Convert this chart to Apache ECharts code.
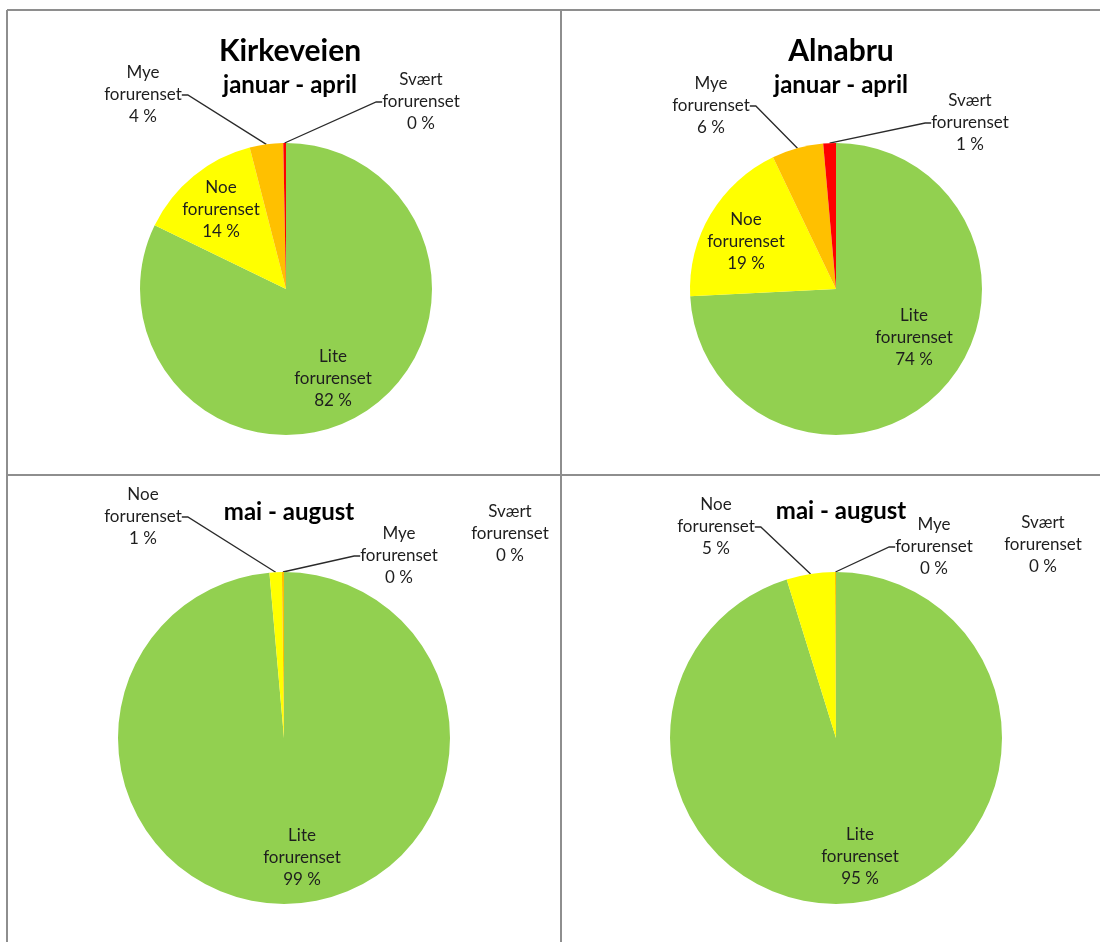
<!DOCTYPE html>
<html>
<head>
<meta charset="utf-8">
<title>Forurensning – Kirkeveien og Alnabru</title>
<script src="https://cdn.jsdelivr.net/npm/echarts@6/dist/echarts.min.js"></script>
<style>
    html, body { margin: 0; padding: 0; background: #fff; }
    #chart { width: 1100px; height: 942px; }
</style>
</head>
<body>
<div id="chart"></div>
<script>
// Categories (clockwise from 12 o'clock, same order as the Excel pies)
const categories = ['Lite forurenset', 'Noe forurenset', 'Mye forurenset', 'Svært forurenset'];
const sliceColors = ['#92D050', '#FFFF00', '#FFC000', '#FF0000'];

// Share of days (%) per category
const kirkeveienJanApr = [82.2, 13.8, 3.7, 0.3];
const alnabruJanApr = [74.2, 18.7, 5.7, 1.4];
const kirkeveienMaiAug = [98.6, 1.2, 0.2, 0];
const alnabruMaiAug = [95.2, 4.7, 0.1, 0];

// Titles
const stationNames = ['Kirkeveien', 'Alnabru'];
const periodNames = ['januar - april', 'mai - august'];

// Layout of the four panels: pie centre, radius, which labels sit inside
const panels = [
    { values: kirkeveienJanApr, center: [286, 289], radius: 146, inside: [0, 1] },
    { values: alnabruJanApr, center: [836, 289], radius: 146, inside: [0, 1] },
    { values: kirkeveienMaiAug, center: [284, 738], radius: 166, inside: [0] },
    { values: alnabruMaiAug, center: [836, 738], radius: 166, inside: [0] },
];

// Where Excel put each data label (centre of the text block), per panel
const labelSpots = [
    [[333, 379], [221, 210], [143, 95], [421, 102]],
    [[914, 338], [746, 242], [711, 106], [970, 123]],
    [[302, 858], [143, 517], [399, 556], [510, 534]],
    [[860, 857], [716, 527], [934, 547], [1043, 545]],
];
// Leader lines that Excel leaves (mostly) undrawn
const hiddenLines = [[], [], [3], [3]];

const chart = echarts.init(document.getElementById('chart'), null, { renderer: 'canvas' });

const labelFont = {
    fontFamily: 'Lato',
    fontSize: 17,
    lineHeight: 22,
    color: '#1e1e1e',
};

const buildSeries = (panel, idx) => ({
    type: 'pie',
    center: panel.center,
    radius: panel.radius,
    startAngle: 90,
    clockwise: true,
    avoidLabelOverlap: false,
    animation: false,
    silent: true,
    itemStyle: { borderWidth: 0 },
    label: {
        show: true,
        position: 'outside',
        ...labelFont,
        formatter: (p) => p.name.replace(' ', '\n') + '\n' + Math.round(p.percent) + ' %',
    },
    labelLine: {
        show: true,
        length: 10,
        length2: 6,
        lineStyle: { color: '#2a2a2a', width: 1.3 },
    },
    labelLayout: (p) => {
        const spot = labelSpots[idx][p.dataIndex];
        return { x: spot[0], y: spot[1], align: 'center', verticalAlign: 'middle' };
    },
    data: panel.values.map((v, i) => {
        const inside = panel.inside.includes(i);
        return {
            name: categories[i],
            value: v,
            itemStyle: { color: sliceColors[i] },
            label: { position: inside ? 'inside' : 'outside' },
            labelLine: { show: !inside && !hiddenLines[idx].includes(i) },
        };
    }),
});

const titleStyle = { fontFamily: 'Lato', fontWeight: 'bold', color: '#000' };

const option = {
    backgroundColor: '#fff',
    title: [
        { text: stationNames[0], left: 285, top: 28, textAlign: 'center',
          textStyle: { ...titleStyle, fontSize: 30, lineHeight: 36 } },
        { text: periodNames[0], left: 285, top: 66, textAlign: 'center',
          textStyle: { ...titleStyle, fontSize: 24, lineHeight: 28 } },
        { text: stationNames[1], left: 836, top: 28, textAlign: 'center',
          textStyle: { ...titleStyle, fontSize: 30, lineHeight: 36 } },
        { text: periodNames[0], left: 836, top: 66, textAlign: 'center',
          textStyle: { ...titleStyle, fontSize: 24, lineHeight: 28 } },
        { text: periodNames[1], left: 284, top: 493, textAlign: 'center',
          textStyle: { ...titleStyle, fontSize: 24, lineHeight: 28 } },
        { text: periodNames[1], left: 836, top: 492, textAlign: 'center',
          textStyle: { ...titleStyle, fontSize: 24, lineHeight: 28 } },
    ],
    // Panel frame lines
    graphic: [
        { type: 'line', shape: { x1: 7, y1: 10, x2: 1100, y2: 10 }, style: { stroke: '#8e8e8e', lineWidth: 2 } },
        { type: 'line', shape: { x1: 7, y1: 10, x2: 7, y2: 942 }, style: { stroke: '#8e8e8e', lineWidth: 2 } },
        { type: 'line', shape: { x1: 561, y1: 10, x2: 561, y2: 942 }, style: { stroke: '#8e8e8e', lineWidth: 2 } },
        { type: 'line', shape: { x1: 7, y1: 475, x2: 1100, y2: 475 }, style: { stroke: '#8e8e8e', lineWidth: 2 } },
    ],
    series: panels.map(buildSeries),
};

chart.setOption(option);
</script>
</body>
</html>
